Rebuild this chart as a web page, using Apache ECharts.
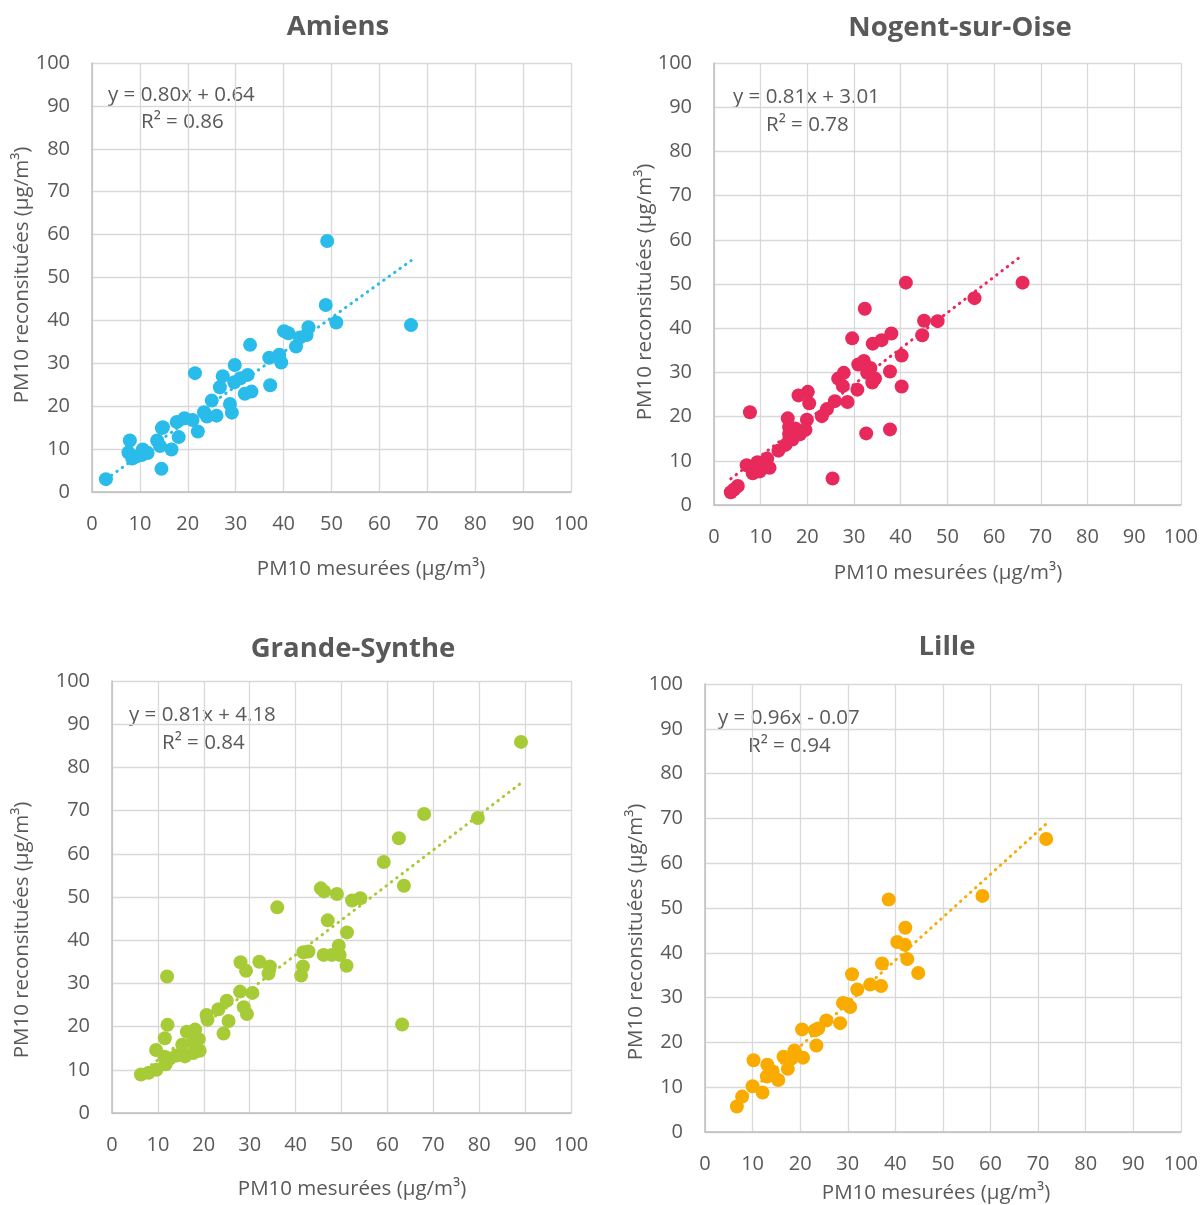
<!DOCTYPE html>
<html>
<head>
<meta charset="utf-8">
<script src="https://cdn.jsdelivr.net/npm/echarts@6/dist/echarts.min.js"></script>
<style>
  html, body { margin: 0; padding: 0; background: #ffffff; }
  #chart { width: 1201px; height: 1205px; }
</style>
</head>
<body>
<div id="chart"></div>
<script>
// PM10: measured vs reconstituted concentrations, one panel per site
const amiensPoints = [
  [2.9,3.0],[7.9,12.0],[7.6,9.2],[8.4,7.8],[9.3,8.3],[10.4,8.6],[11.6,9.1],[10.6,9.9],[13.6,12.0],
  [14.5,5.4],[14.6,14.9],[14.2,10.7],[14.8,15.1],[16.6,9.9],[18.1,12.8],[17.7,16.3],[19.3,17.2],
  [22.1,14.1],[21.5,27.7],[21.0,16.8],[23.4,18.6],[24.0,17.6],[26.0,17.8],[25.0,21.3],[26.7,24.4],
  [27.3,27.0],[28.8,20.5],[29.2,18.5],[29.8,29.6],[29.7,25.6],[31.0,26.5],[32.5,27.3],[31.9,22.9],
  [33.3,23.4],[33.0,34.3],[37.2,24.9],[37.0,31.3],[39.1,32.0],[39.5,30.2],[40.1,37.5],[41.0,37.0],
  [42.6,33.9],[43.4,36.0],[45.2,38.4],[44.8,36.6],[48.8,43.6],[49.1,58.5],[51.0,39.5],[66.6,38.9]
];
const nogentPoints = [
  [3.6,2.9],[4.3,3.5],[5.1,4.3],[7.7,21.0],[7.0,9.0],[8.3,7.2],[9.3,9.7],[8.6,8.2],[9.8,7.6],
  [11.4,10.5],[11.9,8.4],[13.8,12.3],[15.3,13.6],[15.8,19.6],[16.1,17.6],[16.1,16.0],[16.8,14.8],
  [17.4,17.3],[18.4,16.0],[19.9,19.3],[19.6,17.0],[18.1,24.8],[20.1,25.6],[20.4,23.0],[23.1,20.1],
  [24.2,21.7],[25.4,6.0],[25.9,23.5],[26.6,28.6],[27.8,29.9],[28.6,23.3],[27.6,26.9],[30.7,26.1],
  [29.6,37.7],[30.9,31.8],[32.1,32.6],[32.3,44.4],[32.6,16.2],[32.8,29.9],[33.5,31.0],[33.9,27.7],
  [34.5,28.6],[34.0,36.5],[35.9,37.3],[38.0,38.8],[37.7,30.2],[37.7,17.1],[40.2,33.8],[40.2,26.8],
  [41.1,50.3],[44.6,38.4],[45.0,41.7],[47.9,41.6],[55.8,46.8],[66.1,50.3]
];
const grandeSynthePoints = [
  [6.3,8.9],[8.0,9.3],[9.7,10.0],[9.6,14.6],[11.7,11.3],[11.5,17.3],[12.1,20.4],[12.0,31.6],
  [11.4,13.0],[12.6,12.6],[14.1,13.3],[15.9,13.1],[15.3,15.8],[16.3,18.8],[17.6,16.5],[18.1,19.3],
  [18.9,17.1],[19.1,14.4],[17.7,13.9],[20.6,22.7],[20.8,21.6],[23.2,24.0],[24.3,18.4],[25.4,21.3],
  [25.0,26.0],[27.9,28.1],[30.6,27.8],[29.4,22.9],[28.7,24.5],[28.0,34.9],[29.2,32.9],[32.1,35.0],
  [34.4,33.9],[34.1,32.3],[36.0,47.6],[41.2,31.8],[41.6,33.9],[41.7,37.2],[42.8,37.4],[46.1,36.6],
  [47.9,36.6],[49.4,38.7],[49.6,36.6],[51.1,34.1],[51.2,41.8],[47.0,44.6],[45.5,52.0],[46.2,51.3],
  [49.0,50.7],[52.3,49.2],[54.1,49.7],[59.2,58.1],[62.5,63.6],[63.6,52.6],[63.2,20.5],[68.0,69.2],
  [79.7,68.3],[89.1,85.9]
];
const lillePoints = [
  [6.7,5.7],[7.8,7.9],[10.0,10.2],[10.2,16.0],[12.1,8.8],[13.1,15.0],[13.0,12.4],[15.4,11.6],
  [14.2,13.5],[16.5,16.8],[17.4,14.1],[18.2,16.4],[18.8,18.2],[19.2,17.3],[20.6,16.6],[20.4,22.9],
  [23.4,19.3],[23.1,22.7],[23.8,23.1],[25.5,24.9],[28.4,24.3],[29.0,28.8],[30.5,27.9],[29.9,28.5],
  [30.9,35.2],[32.0,31.8],[34.7,32.9],[37.0,32.6],[37.2,37.6],[38.6,51.9],[40.4,42.4],[42.0,41.8],
  [42.1,45.6],[42.5,38.6],[44.8,35.5],[58.3,52.7],[71.7,65.4]
];

// Site names and fitted regression lines (slope, intercept, R²)
const siteNames = ['Amiens', 'Nogent-sur-Oise', 'Grande-Synthe', 'Lille'];
const slopes = [0.80, 0.81, 0.81, 0.96];
const intercepts = [0.64, 3.01, 4.18, -0.07];
const rSquared = [0.86, 0.78, 0.84, 0.94];
const siteColors = ['#29BBE9', '#E8295B', '#A7CB37', '#F9AB00'];
const axisMin = 0, axisMax = 100, axisStep = 10;
const xAxisName = 'PM10 mesurées (µg/m³)';
const yAxisName = 'PM10 reconsituées (µg/m³)';

const pointSets = [amiensPoints, nogentPoints, grandeSynthePoints, lillePoints];

// Panel layout: plot rectangles and centres of the surrounding texts
const panels = [
  { grid: { left: 92,  top: 63,  width: 479, height: 429 }, title: [338, 27],  eq: [108, 95],  r2: [141, 122], xName: [371, 569],  yName: [22, 275] },
  { grid: { left: 714, top: 63,  width: 468, height: 442 }, title: [960, 28],  eq: [733, 97],  r2: [766, 125], xName: [948, 573],  yName: [645, 292] },
  { grid: { left: 112, top: 681, width: 459, height: 432 }, title: [353, 649], eq: [129, 715], r2: [162, 743], xName: [352, 1189], yName: [22, 930] },
  { grid: { left: 705, top: 684, width: 477, height: 448 }, title: [947, 647], eq: [718, 718], r2: [748, 746], xName: [936, 1193], yName: [636, 932] }
];

const textColor = '#595959';
const fontFamily = '"Open Sans", "Noto Sans", sans-serif';

function fmt(v) { return v.toFixed(2); }
function equationText(i) {
  const b = intercepts[i];
  return 'y = ' + fmt(slopes[i]) + 'x ' + (b < 0 ? '- ' : '+ ') + fmt(Math.abs(b));
}
function label(text, pos, font, rotation) {
  return {
    type: 'text', x: pos[0], y: pos[1], rotation: rotation || 0,
    style: { text: text, fill: textColor, font: font, textAlign: 'center', textVerticalAlign: 'middle' }
  };
}

const grids = [], xAxes = [], yAxes = [], series = [], graphics = [];

panels.forEach(function (p, i) {
  grids.push(p.grid);
  const axisCommon = {
    gridIndex: i, type: 'value', min: axisMin, max: axisMax, interval: axisStep,
    axisLine: { show: true, onZero: false, lineStyle: { color: '#BFBFBF', width: 1.5 } },
    axisTick: { show: false },
    axisLabel: { color: textColor, fontSize: 20, fontFamily: fontFamily, margin: 22 },
    splitLine: { show: true, lineStyle: { color: '#D9D9D9', width: 1.3 } }
  };
  xAxes.push(Object.assign({}, axisCommon));
  yAxes.push(Object.assign({}, axisCommon));

  const pts = pointSets[i];
  const xs = pts.map(function (d) { return d[0]; });
  const x0 = Math.min.apply(null, xs), x1 = Math.max.apply(null, xs);

  // Linear trend line drawn from the stated regression equation
  series.push({
    type: 'line', xAxisIndex: i, yAxisIndex: i, silent: true, showSymbol: false, z: 3,
    data: [[x0, slopes[i] * x0 + intercepts[i]], [x1, slopes[i] * x1 + intercepts[i]]],
    lineStyle: { color: siteColors[i], width: 3, type: [0.5, 6.2], cap: 'round' }
  });
  series.push({
    type: 'scatter', xAxisIndex: i, yAxisIndex: i, z: 2,
    symbol: 'circle', symbolSize: 14,
    itemStyle: { color: siteColors[i], opacity: 1 },
    data: pts
  });

  graphics.push(label(siteNames[i], p.title, 'bold 27.5px ' + fontFamily));
  graphics.push(label(xAxisName, p.xName, '20.5px ' + fontFamily));
  graphics.push(label(yAxisName, p.yName, '20.5px ' + fontFamily, Math.PI / 2));
  graphics.push({
    type: 'text', x: p.eq[0], y: p.eq[1],
    style: { text: equationText(i), fill: textColor, font: '20.5px ' + fontFamily, textAlign: 'left', textVerticalAlign: 'middle' }
  });
  graphics.push({
    type: 'text', x: p.r2[0], y: p.r2[1],
    style: { text: 'R² = ' + fmt(rSquared[i]), fill: textColor, font: '20.5px ' + fontFamily, textAlign: 'left', textVerticalAlign: 'middle' }
  });
});

const chart = echarts.init(document.getElementById('chart'), null, { renderer: 'canvas' });
chart.setOption({
  backgroundColor: '#ffffff',
  animation: false,
  grid: grids,
  xAxis: xAxes,
  yAxis: yAxes,
  series: series,
  graphic: graphics
});
</script>
</body>
</html>
